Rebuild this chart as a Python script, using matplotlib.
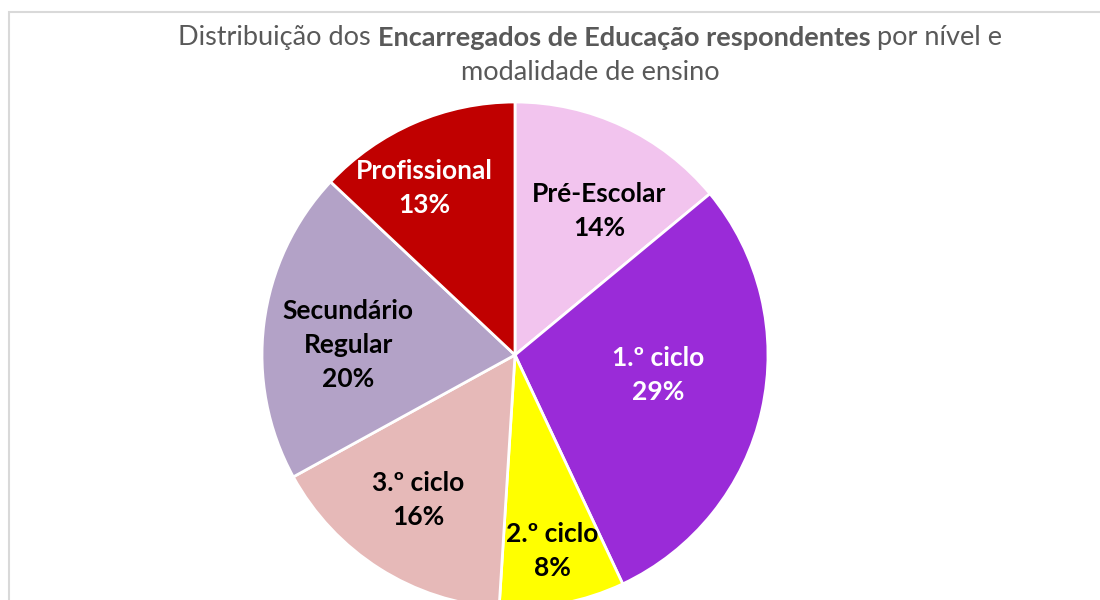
import matplotlib.pyplot as plt
from matplotlib.patches import Rectangle
import numpy as np

# data
labels = ["Pré-Escolar", "1.º ciclo", "2.º ciclo", "3.º ciclo", "Secundário\nRegular", "Profissional"]
values = [14, 29, 8, 16, 20, 13]
colors = ["#F2C4EE", "#9A2BD8", "#FFFF00", "#E6B9B8", "#B3A2C7", "#C00000"]
text_colors = ["black", "white", "black", "black", "black", "white"]
label_dist = [0.66, 0.57, 0.79, 0.69, 0.66, 0.75]
label_shift = [-5, 4.6, 0, -1.2, 3.8, 5]  # degrees, mimic Excel best-fit placement

fig = plt.figure(figsize=(11, 6), dpi=100)

# chart frame (extends past right/bottom edges)
fig.add_artist(Rectangle((9 / 1100, -0.1), 1.2, (600 - 12) / 600 + 0.1,
                         transform=fig.transFigure, fill=False,
                         edgecolor="#D9D9D9", linewidth=1.5))

R = 253
ax = fig.add_axes([(515 - R) / 1100, (245 - R) / 600, 2 * R / 1100, 2 * R / 600])
wedges, _ = ax.pie(values, colors=colors, startangle=90, counterclock=False,
                   wedgeprops=dict(edgecolor="white", linewidth=2))
ax.set_xlim(-1, 1)
ax.set_ylim(-1, 1)

total = sum(values)
for w, lab, v, tc, d, s in zip(wedges, labels, values, text_colors, label_dist, label_shift):
    mid = np.deg2rad((w.theta1 + w.theta2) / 2 + s)
    ax.text(d * np.cos(mid), d * np.sin(mid), f"{lab}\n{round(100 * v / total)}%",
            ha="center", va="center", fontsize=19, fontweight="bold",
            family="Lato", color=tc, linespacing=1.5)

# title with bold middle part
parts = [("Distribuição dos ", "normal"),
         ("Encarregados de Educação respondentes", "bold"),
         (" por nível e", "normal")]
renderer = fig.canvas.get_renderer()
tmp = []
for s, wt in parts:
    t = fig.text(0, 0, s, fontsize=19.5, family="Lato", fontweight=wt, color="#595959")
    tmp.append(t)
widths = [t.get_window_extent(renderer).width for t in tmp]
x = 590 - sum(widths) / 2
for t, wd in zip(tmp, widths):
    t.set_position((x / 1100, 1 - 38 / 600))
    t.set_va("center")
    x += wd
fig.text(590 / 1100, 1 - 72 / 600, "modalidade de ensino", fontsize=19.5, family="Lato",
         color="#595959", ha="center", va="center")

fig.savefig("out.png", dpi=100)
